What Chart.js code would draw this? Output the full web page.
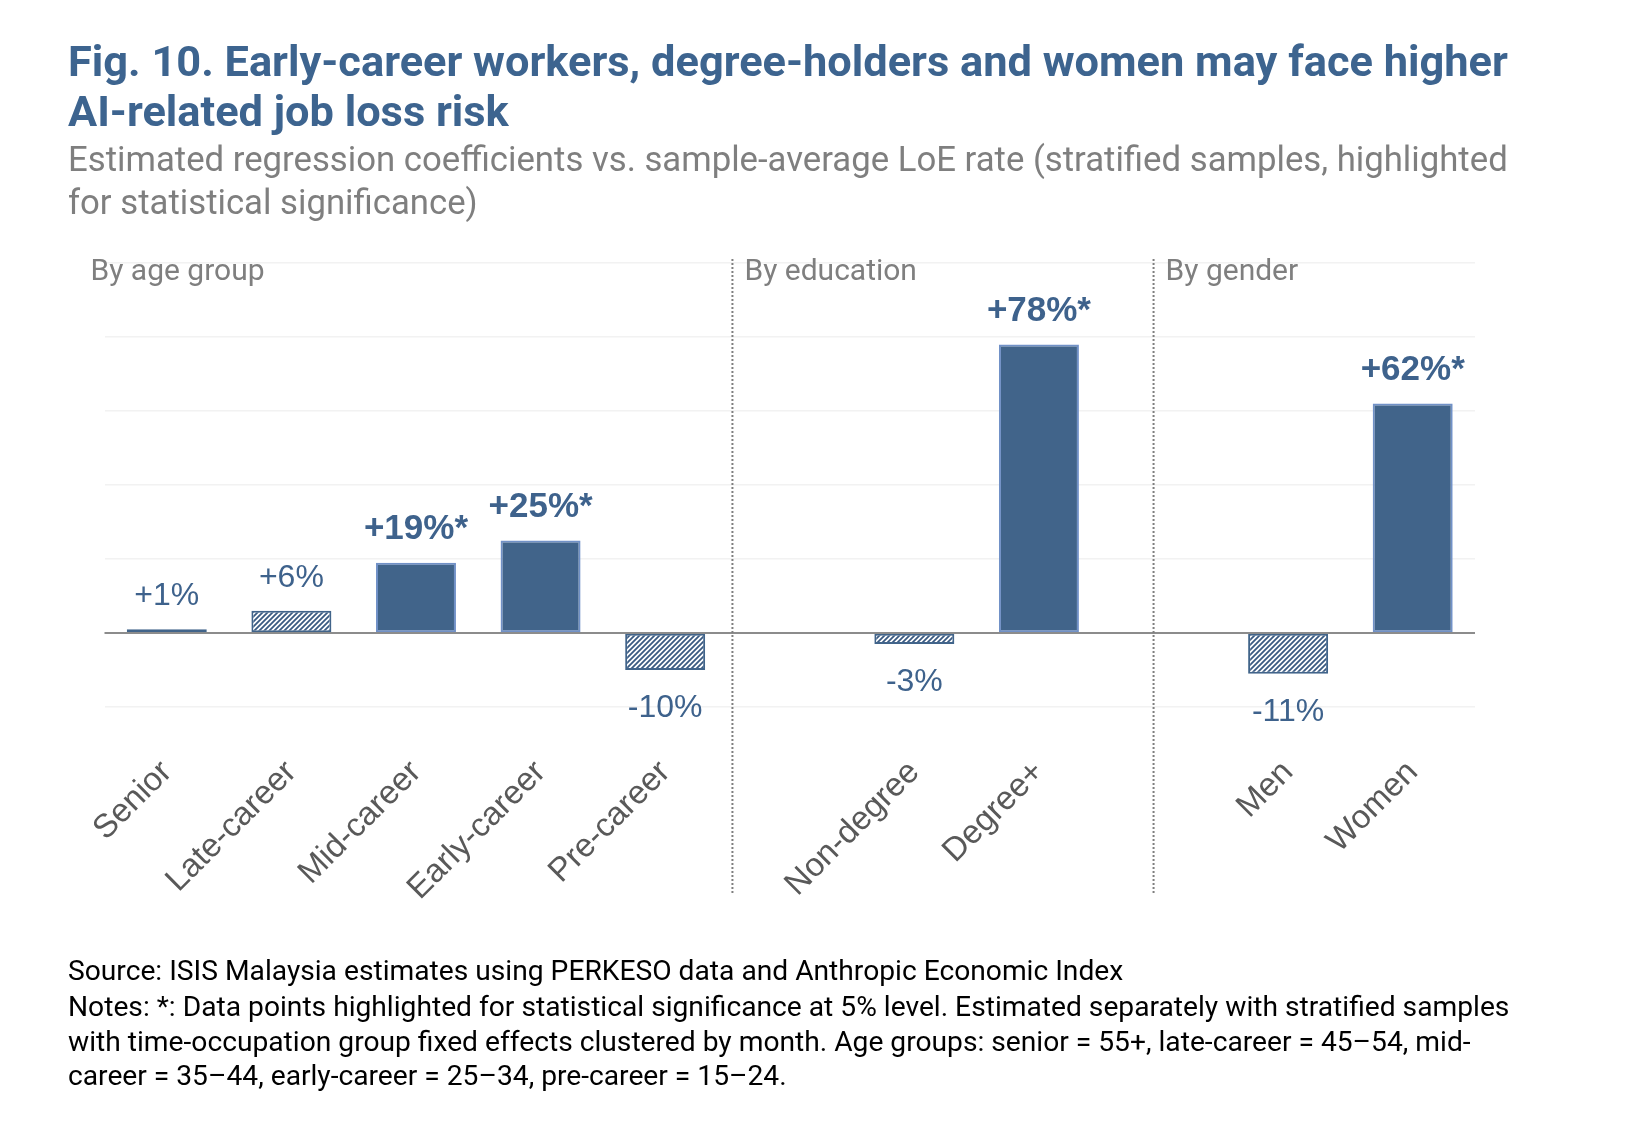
<!DOCTYPE html>
<html>
<head>
<meta charset="utf-8">
<script src="https://cdn.jsdelivr.net/npm/chart.js@4.4.1/dist/chart.umd.min.js"></script>
<style>
  html, body { margin: 0; padding: 0; background: #fff; }
  body { width: 1630px; height: 1139px; position: relative; overflow: hidden; }
  #wrap { position: absolute; left: 0; top: 0; width: 1630px; height: 1139px; }
  .txt { position: absolute; left: 68px; white-space: nowrap; font-family: Roboto, sans-serif; line-height: normal; }
  .title { color: #3d648f; font-weight: 700; font-size: 38px; }
  .sub { color: #7f7f7f; font-size: 30px; }
  .foot { color: #000; font-size: 24px; }
</style>
</head>
<body>
<div id="wrap"><canvas id="chart"></canvas></div>

<div class="txt title" id="t1" data-cy="61">Fig. 10. Early-career workers, degree-holders and women may face higher</div>
<div class="txt title" id="t2" data-cy="111">AI-related job loss risk</div>
<div class="txt sub" id="s1" data-cy="159">Estimated regression coefficients vs. sample-average LoE rate (stratified samples, highlighted</div>
<div class="txt sub" id="s2" data-cy="202">for statistical significance)</div>
<div class="txt foot" id="f1" data-cy="970">Source: ISIS Malaysia estimates using PERKESO data and Anthropic Economic Index</div>
<div class="txt foot" id="f2" data-cy="1006">Notes: *: Data points highlighted for statistical significance at 5% level. Estimated separately with stratified samples</div>
<div class="txt foot" id="f3" data-cy="1041">with time-occupation group fixed effects clustered by month. Age groups: senior = 55+, late-career = 45–54, mid-</div>
<div class="txt foot" id="f4" data-cy="1075">career = 35–44, early-career = 25–34, pre-career = 15–24.</div>

<script>
// values (% vs sample-average LoE rate)
const ageLabels = ['Senior', 'Late-career', 'Mid-career', 'Early-career', 'Pre-career'];
const ageValues = [1, 6, 19, 25, -10];
const ageSignificant = [false, false, true, true, false];

const eduLabels = ['Non-degree', 'Degree+'];
const eduValues = [-3, 78];
const eduSignificant = [false, true];

const genderLabels = ['Men', 'Women'];
const genderValues = [-11, 62];
const genderSignificant = [false, true];

const groupTitles = ['By age group', 'By education', 'By gender'];
const yMin = -20, yMax = 100, yStep = 20;

// one empty slot between groups
const labels = [...ageLabels, '', ...eduLabels, '', ...genderLabels];
const values = [...ageValues, null, ...eduValues, null, ...genderValues];
const significant = [...ageSignificant, null, ...eduSignificant, null, ...genderSignificant];

// where the dotted dividers sit, in category units
const dividers = [4.54, 7.92];

const BLUE = '#41648a';
const BLUE_EDGE = '#7191c7';
const LABEL_BLUE = '#3e628c';

// fit header/footer text widths
function fitGroup(ids, target) {
    const els = ids.map(id => document.getElementById(id));
    const base = parseFloat(getComputedStyle(els[0]).fontSize);
    const w = els[0].getBoundingClientRect().width;
    const size = base * target / w;
    els.forEach(el => {
        el.style.fontSize = size + 'px';
        el.style.top = (parseFloat(el.dataset.cy) - el.offsetHeight / 2) + 'px';
    });
}
fitGroup(['t1', 't2'], 1440);
fitGroup(['s1', 's2'], 1440);
fitGroup(['f2', 'f1', 'f3', 'f4'], 1442);

const canvas = document.getElementById('chart');
const ctx = canvas.getContext('2d');

function hatch(color) {
    const c = document.createElement('canvas');
    c.width = 5; c.height = 5;
    const g = c.getContext('2d');
    g.fillStyle = '#fff';
    g.fillRect(0, 0, 5, 5);
    g.strokeStyle = color;
    g.lineWidth = 1.8;
    g.beginPath();
    g.moveTo(0, 5); g.lineTo(5, 0);
    g.moveTo(-1, 1); g.lineTo(1, -1);
    g.moveTo(4, 6); g.lineTo(6, 4);
    g.stroke();
    return ctx.createPattern(c, 'repeat');
}
const stripes = hatch('#3a5a82');

const extras = {
    id: 'extras',
    afterDatasetsDraw(chart) {
        const { ctx, chartArea, scales: { x, y } } = chart;
        ctx.save();

        // zero line on top of bars
        const y0 = y.getPixelForValue(0);
        ctx.strokeStyle = '#8c8c8c';
        ctx.lineWidth = 2;
        ctx.beginPath();
        ctx.moveTo(chartArea.left, y0);
        ctx.lineTo(chartArea.right, y0);
        ctx.stroke();

        // value labels
        const meta = chart.getDatasetMeta(0);
        ctx.textAlign = 'center';
        ctx.textBaseline = 'middle';
        ctx.fillStyle = LABEL_BLUE;
        meta.data.forEach((bar, i) => {
            const v = values[i];
            if (v === null) return;
            const txt = (v > 0 ? '+' : '') + v + '%' + (significant[i] ? '*' : '');
            ctx.font = significant[i] ? 'bold 35px "Liberation Sans"' : '32px "Liberation Sans"';
            const ty = v >= 0 ? bar.y - 33 : bar.y + 38;
            ctx.fillText(txt, bar.x, ty);
        });

        // dotted group dividers
        ctx.strokeStyle = '#7f7f7f';
        ctx.lineWidth = 2;
        ctx.setLineDash([2, 2]);
        const dx = dividers.map(d => x.getPixelForValue(d));
        dx.forEach(px => {
            ctx.beginPath();
            ctx.moveTo(px, chartArea.top - 4);
            ctx.lineTo(px, 895);
            ctx.stroke();
        });
        ctx.setLineDash([]);

        // group titles
        ctx.font = '30px Roboto';
        ctx.fillStyle = '#7f7f7f';
        ctx.textAlign = 'left';
        const tx = [chartArea.left - 14, dx[0] + 12, dx[1] + 12];
        groupTitles.forEach((t, i) => ctx.fillText(t, tx[i], chartArea.top + 9));

        ctx.restore();
    }
};

new Chart(canvas, {
    type: 'bar',
    data: {
        labels,
        datasets: [{
            data: values,
            backgroundColor: significant.map(s => s ? BLUE : stripes),
            borderColor: significant.map(s => s ? BLUE_EDGE : BLUE),
            borderWidth: 2,
            borderSkipped: false,
            categoryPercentage: 1,
            barPercentage: 0.642
        }]
    },
    options: {
        responsive: true,
        maintainAspectRatio: false,
        animation: false,
        layout: { padding: { left: 104.5, right: 155, top: 263, bottom: 0 } },
        plugins: { legend: { display: false }, tooltip: { enabled: false } },
        scales: {
            x: {
                grid: { display: false, drawTicks: false },
                border: { display: false },
                ticks: {
                    color: '#595959',
                    font: { family: 'Liberation Sans', size: 33 },
                    minRotation: 45, maxRotation: 45,
                    autoSkip: false,
                    padding: 46
                },
                afterFit(scale) { scale.height = 1139 - 707; }
            },
            y: {
                min: yMin, max: yMax,
                ticks: { display: false, stepSize: yStep },
                border: { display: false },
                grid: {
                    drawTicks: false,
                    color: c => c.tick.value === 0 ? '#8c8c8c' : '#f2f2f2',
                    lineWidth: 1.5
                },
                afterFit(scale) { scale.width = 0; }
            }
        }
    },
    plugins: [extras]
});
</script>
</body>
</html>
